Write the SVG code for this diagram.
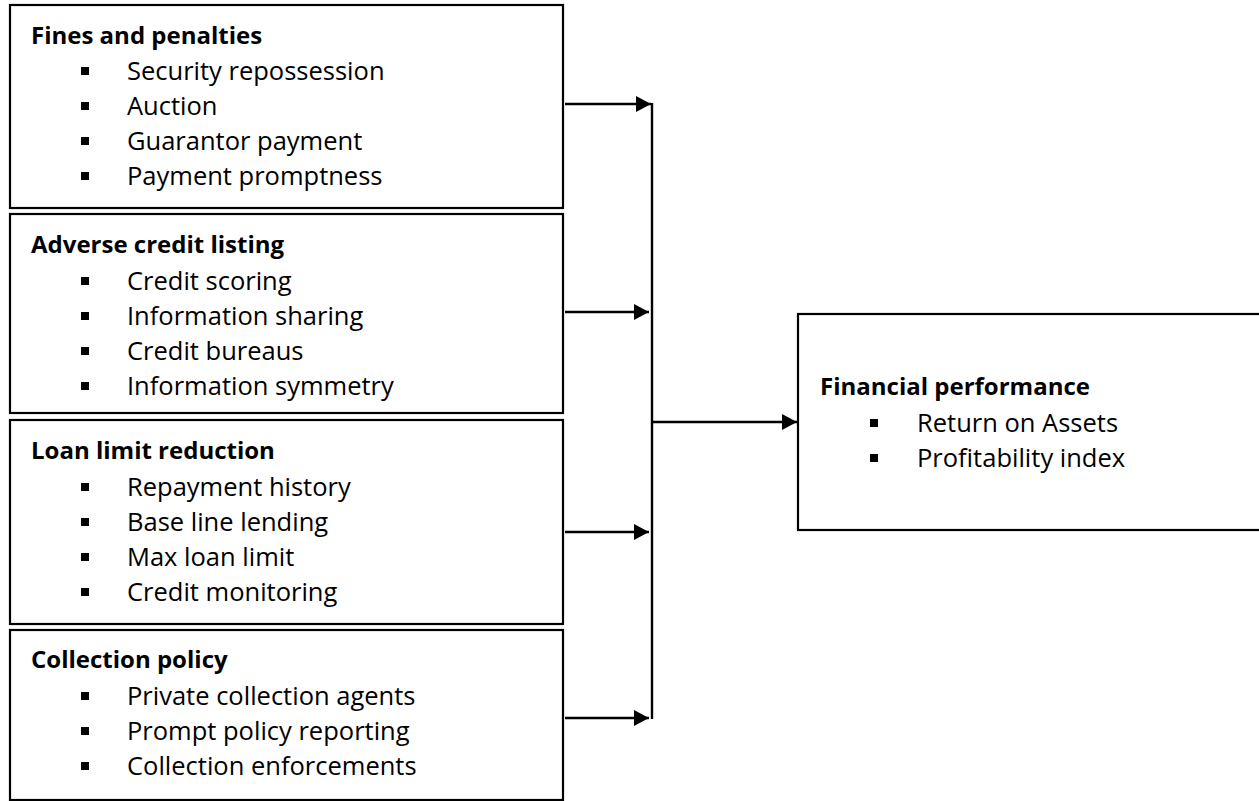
<svg xmlns="http://www.w3.org/2000/svg" width="1259" height="801" viewBox="0 0 1259 801">
<style>
.box{fill:#fff;stroke:#000;stroke-width:2.2}
.t{font-family:"Open Sans","Noto Sans",sans-serif;font-size:25.5px;fill:#000}
.h{font-weight:bold;font-size:24px}
.b{fill:#000}
.c{stroke:#000;stroke-width:2.4;fill:none}
</style>
<defs>
<marker id="ah" markerUnits="userSpaceOnUse" markerWidth="16" markerHeight="18" refX="15" refY="8" orient="auto">
<path d="M0,0 L15,8 L0,16 Z" fill="#000"/>
</marker>
<rect id="sq" width="8" height="8" class="b"/>
</defs>
<rect width="1259" height="801" fill="#fff"/>
<g id="fines">
<rect class="box" x="10" y="5" width="553" height="203"/>
<text class="t h" x="31" y="44">Fines and penalties</text>
<use href="#sq" x="81" y="67"/><text class="t" x="127" y="80">Security repossession</text>
<use href="#sq" x="81" y="102"/><text class="t" x="127" y="115">Auction</text>
<use href="#sq" x="81" y="137"/><text class="t" x="127" y="150">Guarantor payment</text>
<use href="#sq" x="81" y="172"/><text class="t" x="127" y="185">Payment promptness</text>
</g>
<g id="adverse">
<rect class="box" x="10" y="214" width="553" height="199"/>
<text class="t h" x="31" y="253">Adverse credit listing</text>
<use href="#sq" x="81" y="277"/><text class="t" x="127" y="290">Credit scoring</text>
<use href="#sq" x="81" y="312"/><text class="t" x="127" y="325">Information sharing</text>
<use href="#sq" x="81" y="347"/><text class="t" x="127" y="360">Credit bureaus</text>
<use href="#sq" x="81" y="382"/><text class="t" x="127" y="395">Information symmetry</text>
</g>
<g id="loan">
<rect class="box" x="10" y="420" width="553" height="204"/>
<text class="t h" x="31" y="459">Loan limit reduction</text>
<use href="#sq" x="81" y="483"/><text class="t" x="127" y="496">Repayment history</text>
<use href="#sq" x="81" y="518"/><text class="t" x="127" y="531">Base line lending</text>
<use href="#sq" x="81" y="553"/><text class="t" x="127" y="566">Max loan limit</text>
<use href="#sq" x="81" y="588"/><text class="t" x="127" y="601">Credit monitoring</text>
</g>
<g id="collection">
<rect class="box" x="10" y="630" width="553" height="170"/>
<text class="t h" x="31" y="668">Collection policy</text>
<use href="#sq" x="81" y="692"/><text class="t" x="127" y="705">Private collection agents</text>
<use href="#sq" x="81" y="727"/><text class="t" x="127" y="740">Prompt policy reporting</text>
<use href="#sq" x="81" y="762"/><text class="t" x="127" y="775">Collection enforcements</text>
</g>
<g id="performance">
<rect class="box" x="798" y="314" width="500" height="216"/>
<text class="t h" x="820" y="395">Financial performance</text>
<use href="#sq" x="870" y="419"/><text class="t" x="917" y="432">Return on Assets</text>
<use href="#sq" x="870" y="454"/><text class="t" x="917" y="467">Profitability index</text>
</g>
<g id="connectors">
<line class="c" x1="565" y1="104" x2="651" y2="104" marker-end="url(#ah)"/>
<line class="c" x1="565" y1="312" x2="649" y2="312" marker-end="url(#ah)"/>
<line class="c" x1="565" y1="532" x2="649" y2="532" marker-end="url(#ah)"/>
<line class="c" x1="565" y1="718" x2="649" y2="718" marker-end="url(#ah)"/>
<line class="c" x1="652" y1="103" x2="652" y2="719"/>
<line class="c" x1="652" y1="422" x2="797" y2="422" marker-end="url(#ah)"/>
</g>
</svg>
